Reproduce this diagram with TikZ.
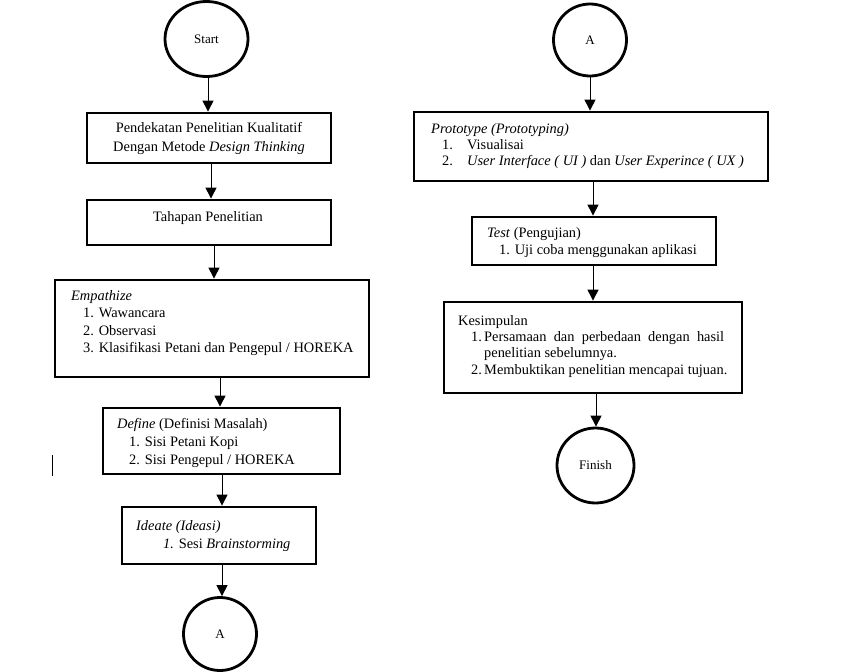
\documentclass[tikz,border=0pt]{standalone}
\usepackage{fontspec}
\setmainfont{Liberation Serif}
\usetikzlibrary{shapes.geometric,arrows.meta}
\begin{document}
\begin{tikzpicture}[x=1pt,y=-1pt,
 box/.style={draw,line width=2.8pt,rectangle,inner sep=0pt},
 term/.style={draw,line width=2.8pt,ellipse,inner sep=0pt,font=\fontsize{13}{15}\selectfont},
 arr/.style={line width=1pt,-{Triangle[width=11pt,length=11pt]}},
 txt/.style={inner sep=0pt,anchor=base west,font=\fontsize{14.4}{17}\selectfont},
 ctxt/.style={inner sep=0pt,anchor=base,font=\fontsize{14.4}{17}\selectfont}]
\useasboundingbox (0,0) rectangle (868,672);
% left column
\node[term,minimum width=83pt,minimum height=75pt] (start) at (206.5,39) {Start};
\node[box,minimum width=244pt,minimum height=50pt] (b1) at (209,138) {};
\node[box,minimum width=244pt,minimum height=45pt] (b2) at (209,222.5) {};
\node[box,minimum width=314pt,minimum height=97pt] (b3) at (212,328.5) {};
\node[box,minimum width=237pt,minimum height=66pt] (b4) at (221.5,441) {};
\node[box,minimum width=194pt,minimum height=57pt] (b5) at (219,535.5) {};
\node[term,minimum width=73pt,minimum height=73pt] (a1) at (220,634) {A};
% right column
\node[term,minimum width=73pt,minimum height=72pt] (a2) at (590,40) {A};
\node[box,minimum width=354pt,minimum height=69pt] (p) at (591,146.5) {};
\node[box,minimum width=244pt,minimum height=48pt] (t) at (594,241) {};
\node[box,minimum width=298pt,minimum height=91pt] (k) at (593,347.5) {};
\node[term,minimum width=77pt,minimum height=75pt] (fin) at (595.5,465.5) {Finish};
% texts
\node[ctxt] (b1l1) at (209,132.5) {Pendekatan Penelitian Kualitatif};
\node[ctxt] (b1l2) at (209,151.5) {Dengan Metode \textit{Design Thinking}};
\node[ctxt] (b2l1) at (208,221.5) {Tahapan Penelitian};
\node[txt] (b3l1) at (71,300.5) {\textit{Empathize}};
\node[txt] (b3l2) at (83,317.5) {1. Wawancara};
\node[txt] (b3l3) at (83,335.5) {2. Observasi};
\node[txt] (b3l4) at (83,352.5) {3. Klasifikasi Petani dan Pengepul / HOREKA};
\node[txt] (b4l1) at (117,428.5) {\textit{Define} (Definisi Masalah)};
\node[txt] (b4l2) at (129,446.5) {1. Sisi Petani Kopi};
\node[txt] (b4l3) at (129,464.5) {2. Sisi Pengepul / HOREKA};
\node[txt] (b5l1) at (136,530.5) {\textit{Ideate (Ideasi)}};
\node[txt] (b5l2) at (163,548.5) {\textit{1.} Sesi \textit{Brainstorming}};
\node[txt] (pl1) at (431,133.5) {\textit{Prototype (Prototyping)}};
\node[txt] (pn1) at (442,149.5) {1.};
\node[txt] (pl2) at (467,149.5) {Visualisai};
\node[txt] (pn2) at (442,165.5) {2.};
\node[txt] (pl3) at (467,165.5) {\textit{User Interface ( UI )} dan \textit{User Experince ( UX )}};
\node[txt] (tl1) at (487,237.5) {\textit{Test} (Pengujian)};
\node[txt] (tl2) at (499,254.5) {1. Uji coba menggunakan aplikasi};
\node[txt] (kl1) at (458,325.5) {Kesimpulan};
\node[txt] (kn1) at (471,341.5) {1.};
\node[txt] (kl2) at (484,341.5) {\makebox[240pt][s]{Persamaan dan perbedaan dengan hasil}};
\node[txt] (kl3) at (484,357.5) {penelitian sebelumnya.};
\node[txt] (kn2) at (471,374.5) {2.};
\node[txt] (kl4) at (484,374.5) {Membuktikan penelitian mencapai tujuan.};
% arrow x positions
\coordinate (x1) at (208,0);
\coordinate (x2) at (211,0);
\coordinate (x3) at (214,0);
\coordinate (x4) at (220,0);
\coordinate (x5) at (222,0);
\coordinate (y1) at (590,0);
\coordinate (y2) at (593,0);
\coordinate (y3) at (596,0);
\draw[arr] (start.south -| x1) -- (b1.north -| x1);
\draw[arr] (b1.south -| x2) -- (b2.north -| x2);
\draw[arr] (b2.south -| x3) -- (b3.north -| x3);
\draw[arr] (b3.south -| x4) -- (b4.north -| x4);
\draw[arr] (b4.south -| x5) -- (b5.north -| x5);
\draw[arr] (b5.south -| x5) -- (a1.north -| x5);
\draw[arr] (a2.south -| y1) -- (p.north -| y1);
\draw[arr] (p.south -| y2) -- (t.north -| y2);
\draw[arr] (t.south -| y2) -- (k.north -| y2);
\draw[arr] (k.south -| y3) -- (fin.north -| y3);
% cursor mark
\draw[line width=1pt] (52,455) -- (52,476);
\end{tikzpicture}
\end{document}
